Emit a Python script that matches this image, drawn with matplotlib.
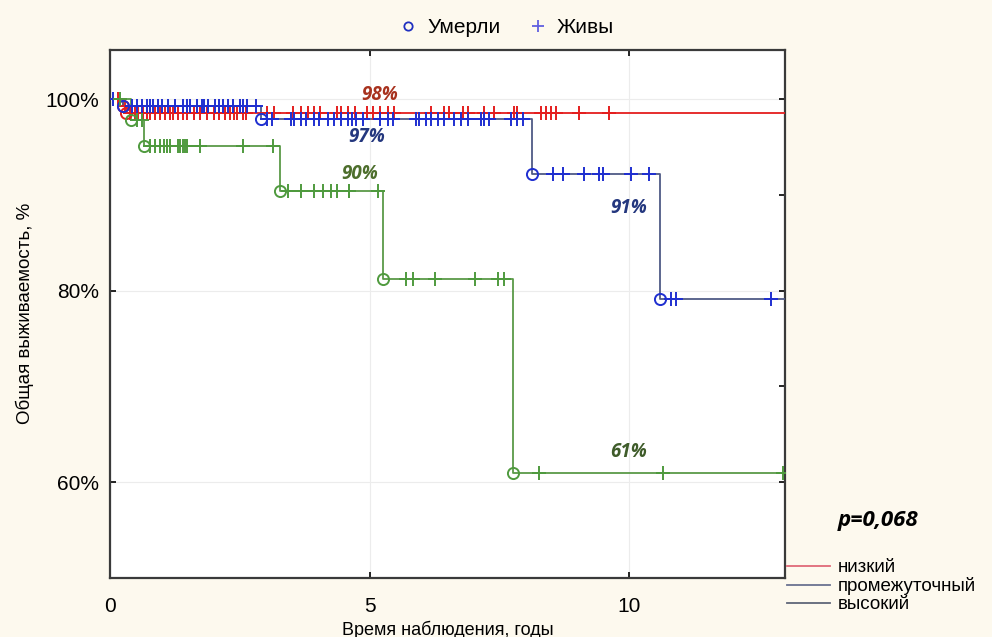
import matplotlib.pyplot as plt
import numpy as np
from matplotlib.lines import Line2D

plt.rcParams['font.family'] = ['Liberation Sans', 'DejaVu Sans']

# survival curves: event times (years) and survival after each event (%)
low_event_t = [0.25, 0.30]
low_event_s = [99.3, 98.6]
low_cens_t = [0.15, 0.29, 0.39, 0.48, 0.54, 0.64, 0.71, 0.77, 0.87, 0.97, 1.06, 1.16, 1.22,
              1.31, 1.41, 1.49, 1.61, 1.74, 1.87, 2.0, 2.09, 2.22, 2.32, 2.38, 2.45, 2.57, 2.62,
              3.03, 3.15, 3.53, 3.67, 3.81, 3.92, 4.05, 4.38, 4.44, 4.58, 4.71, 4.96, 5.06,
              5.21, 5.35, 5.47, 6.18, 6.43, 6.53, 6.81, 6.89, 7.2, 7.39, 7.78, 7.85, 8.3,
              8.4, 8.49, 8.59, 9.03, 9.61]
mid_event_t = [0.25, 2.90, 8.13, 10.60]
mid_event_s = [99.3, 98.0, 92.2, 79.1]
mid_cens_t = [0.05, 0.42, 0.52, 0.61, 0.71, 0.77, 0.83, 0.93, 1.0, 1.12, 1.25, 1.41, 1.49,
              1.54, 1.68, 1.78, 1.8, 1.89, 2.03, 2.09, 2.18, 2.28, 2.36, 2.51, 2.57, 2.64, 2.82,
              3.02, 3.12, 3.48, 3.54, 3.67, 3.77, 3.92, 4.02, 4.19, 4.31, 4.44, 4.59, 4.67, 4.73,
              4.88, 5.21, 5.35, 5.46, 5.89, 5.95, 6.08, 6.18, 6.31, 6.43, 6.62, 6.76, 6.89, 7.14,
              7.2, 7.3, 7.72, 7.85, 7.95, 8.53, 8.73, 9.13, 9.42, 9.5, 10.04, 10.39,
              10.81, 10.91, 12.74]
high_event_t = [0.40, 0.65, 3.28, 5.25, 7.76]
high_event_s = [97.8, 95.1, 90.4, 81.2, 61.0]
high_cens_t = [0.2, 0.52, 0.62, 0.77, 0.87, 0.97, 1.03, 1.1, 1.16, 1.3, 1.35, 1.41, 1.45, 1.49,
               1.74, 2.57, 3.13, 3.42, 3.67, 3.92, 4.11, 4.25, 4.38, 4.6, 4.6, 5.16,
               5.7, 5.83, 6.27, 7.04, 7.47, 7.59, 8.26, 10.66, 12.97]
t_end = 13.0

# final survival labels: text, x, y, colour
labels = ['98%', '97%', '90%', '91%', '61%']
label_x = [5.2, 4.95, 4.8, 10.0, 10.0]
label_y = [100.5, 96.1, 92.2, 88.6, 63.1]
label_c = ['#a8321e', '#24377e', '#4d6e2c', '#24377e', '#3f5c2a']

groups = [
    ('низкий', low_event_t, low_event_s, low_cens_t, '#e41e1e', '#e41e1e', '#e41e1e'),
    ('промежуточный', mid_event_t, mid_event_s, mid_cens_t, '#4f5a86', '#1f2fd0', '#1f2fd0'),
    ('высокий', high_event_t, high_event_s, high_cens_t, '#5a9a48', '#4f9a3e', '#4f9a3e'),
]
legend_colors = ['#e06a78', '#6a7290', '#5f6678']

fig = plt.figure(figsize=(9.92, 6.37), dpi=100, facecolor='#fdf9ee')
ax = fig.add_axes([0.111, 0.093, 0.68, 0.829])
ax.set_facecolor('white')


def surv_at(t, ev_t, ev_s):
    s = 100.0
    for et, es in zip(ev_t, ev_s):
        if t >= et:
            s = es
    return s


for name, ev_t, ev_s, cens, lc, oc, cc in groups:
    xs = [0.0] + list(ev_t) + [t_end]
    ys = [100.0] + list(ev_s) + [ev_s[-1]]
    ax.step(xs, ys, where='post', color=lc, lw=1.3, zorder=3)
    ax.plot(ev_t, ev_s, 'o', ms=8, mfc='none', mec=oc, mew=1.4, zorder=4)
    cy = [surv_at(t, ev_t, ev_s) for t in cens]
    ax.plot(cens, cy, '+', ms=10, color=cc, mew=1.4, zorder=4)

ax.set_xlim(0, t_end)
ax.set_ylim(50, 105.2)
ax.set_xticks([0, 5, 10])
ax.set_yticks([60, 80, 100])
ax.set_yticklabels(['60%', '80%', '100%'])
ax.set_yticks([70, 90], minor=True)
ax.tick_params(direction='in', top=True, right=True, labelsize=15, length=4, width=1.2)
ax.tick_params(axis='x', pad=14)
ax.tick_params(axis='y', pad=8)
ax.tick_params(which='minor', direction='in', right=True, left=False, length=4, width=1.2)
ax.grid(True, color='#ececec', lw=0.8)
for s in ax.spines.values():
    s.set_color('#3a3a3a')
    s.set_linewidth(1.6)

ax.set_xlabel('Время наблюдения, годы', fontsize=13, labelpad=3)
ax.set_ylabel('Общая выживаемость, %', fontsize=13.5, labelpad=8)

for txt, x, y, c in zip(labels, label_x, label_y, label_c):
    ax.text(x, y, txt, color=c, ha='center', va='center', fontsize=13.5, fontweight='bold',
            style='italic', family=['Open Sans', 'DejaVu Sans'])

fig.text(0.885, 0.183, 'p=0,068', fontsize=16, fontweight='bold', style='italic',
         family=['Open Sans', 'DejaVu Sans'], ha='center', va='center')

top_handles = [
    Line2D([], [], ls='none', marker='o', ms=6, mfc='none', mec='#2030c0', mew=1.3),
    Line2D([], [], ls='none', marker='+', ms=8, color='#6060e0', mew=1.3),
]
fig.legend(top_handles, ['Умерли', 'Живы'], loc='center', bbox_to_anchor=(0.51, 0.957),
           ncol=2, frameon=False, fontsize=15, handlelength=1.0, handletextpad=0.4,
           columnspacing=1.3)

bottom_handles = [Line2D([], [], color=c, lw=1.3) for c in legend_colors]
fig.legend(bottom_handles, [g[0] for g in groups], loc='upper left',
           bbox_to_anchor=(0.782, 0.14), frameon=False, fontsize=13.5,
           handlelength=2.3, handletextpad=0.4, labelspacing=0.05, borderaxespad=0.2)

fig.savefig('out.png', dpi=100, facecolor=fig.get_facecolor())
